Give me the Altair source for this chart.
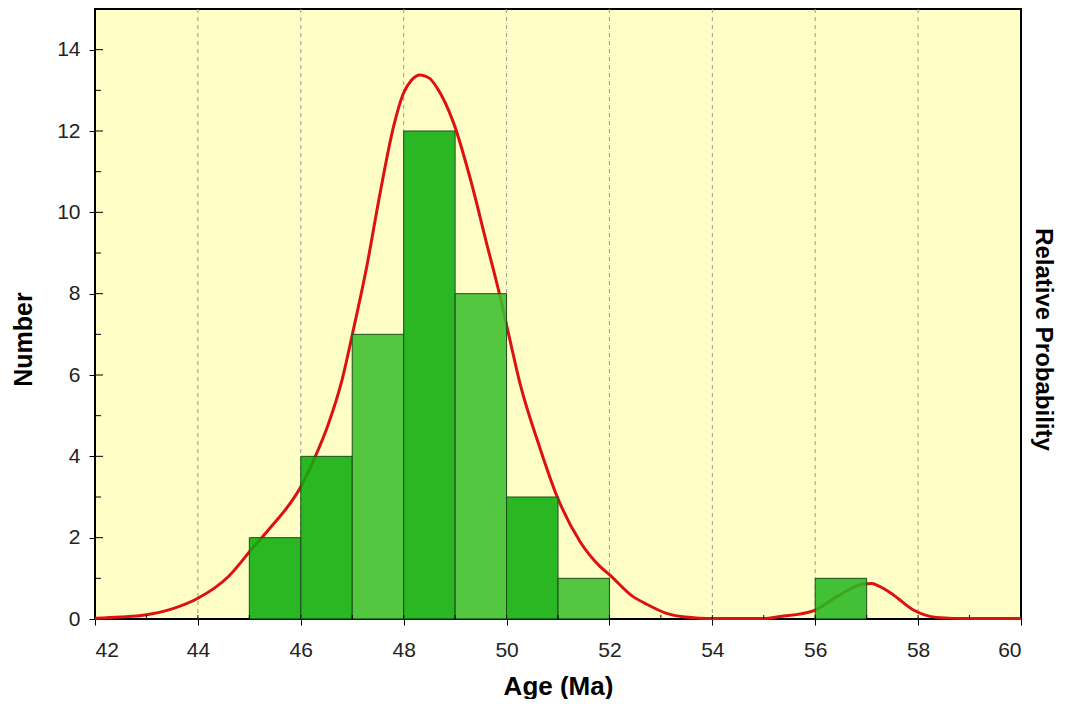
import altair as alt
import pandas as pd

# ---- data ----
bin_start = [45, 46, 47, 48, 49, 50, 51, 56]
bin_end = [46, 47, 48, 49, 50, 51, 52, 57]
counts = [2, 4, 7, 12, 8, 3, 1, 1]
bar_colors = ["#0EAC0E", "#0EAC0E", "#3ABF2C", "#0EAC0E", "#3ABF2C", "#0EAC0E", "#3ABF2C", "#28B822"]

curve_age = [42.0, 42.5, 42.97, 43.5, 44.0, 44.59, 45.06, 45.37, 46.0, 46.28, 46.54, 46.80,
             47.02, 47.28, 47.54, 47.80, 47.99, 48.15, 48.32, 48.5, 48.64, 48.97, 49.29,
             49.61, 49.87, 50.05, 50.26, 50.65, 50.97, 51.43, 51.81, 52.01, 52.46, 52.7,
             53.11, 53.4, 53.76, 54.0, 55.0, 55.32, 55.96, 56.42, 56.7, 56.94, 57.1, 57.25,
             57.52, 57.91, 58.36, 59.0, 60.0]
curve_val = [0.02, 0.05, 0.10, 0.25, 0.51, 1.04, 1.74, 2.19, 3.25, 3.99, 4.81, 5.87,
             7.10, 8.65, 10.46, 12.09, 12.91, 13.25, 13.38, 13.3, 13.08, 12.2, 10.85,
             9.25, 7.95, 6.95, 5.8, 4.2, 3.05, 1.9, 1.3, 1.08, 0.55, 0.38,
             0.14, 0.06, 0.02, 0.01, 0.01, 0.06, 0.2, 0.55, 0.75, 0.86, 0.87, 0.8,
             0.59, 0.22, 0.04, 0.01, 0.01]

x_ticks = [42, 44, 46, 48, 50, 52, 54, 56, 58, 60]
x_inner_ticks = list(range(43, 60))
y_ticks = [0, 2, 4, 6, 8, 10, 12, 14]
y_major_inner = [2, 4, 6, 8, 10, 12, 14]
y_minor_inner = [1, 3, 5, 7, 9, 11, 13]
grid_x = [44, 46, 48, 50, 52, 54, 56, 58]

W, H = 926, 610
FONT = "Liberation Sans"

bars_df = pd.DataFrame({"x": bin_start, "x1": bin_end, "n": counts, "c": bar_colors})
curve_df = pd.DataFrame({"x": curve_age, "p": curve_val})
grid_df = pd.DataFrame({"x": grid_x})
xin_df = pd.DataFrame({"x": x_inner_ticks})
ymaj_df = pd.DataFrame({"y": y_major_inner})
ymin_df = pd.DataFrame({"y": y_minor_inner})

xscale = alt.Scale(domain=[42, 60], nice=False, zero=False)
yscale = alt.Scale(domain=[0, 15], nice=False, zero=False)

xaxis = alt.Axis(values=x_ticks, format="d", title="Age (Ma)", domain=False, grid=False,
                 tickSize=6, tickColor="#000000", tickWidth=1, labelPadding=14,
                 labelFontSize=21, labelFont=FONT, labelColor="#222222",
                 titleFont=FONT, titleFontSize=26, titleFontWeight="bold", titleColor="#000000",
                 titleY=75, titleBaseline="alphabetic")

yaxis = alt.Axis(values=y_ticks, format="d", title="Number", domain=False, grid=False,
                 tickSize=6, tickColor="#000000", tickWidth=1, labelPadding=9,
                 labelFontSize=21, labelFont=FONT, labelColor="#222222",
                 titleFont=FONT, titleFontSize=25, titleFontWeight="bold", titleColor="#000000",
                 titleAngle=-90, titleX=-72, titleY=330, titleAlign="center", titleBaseline="middle")

raxis = alt.Axis(orient="right", title="Relative Probability", labels=False, ticks=False,
                 domain=False, grid=False,
                 titleFont=FONT, titleFontSize=24, titleFontWeight="bold", titleColor="#000000",
                 titleAngle=90, titleX=21, titleY=330, titleAlign="center", titleBaseline="middle")

grid = alt.Chart(grid_df).mark_rule(color="#9a9a90", strokeDash=[4, 4], strokeWidth=1).encode(
    x=alt.X("x:Q", scale=xscale, axis=xaxis)
)

curve = alt.Chart(curve_df).mark_line(color="#DC1212", strokeWidth=3, interpolate="monotone").encode(
    x=alt.X("x:Q", scale=xscale, axis=xaxis),
    y=alt.Y("p:Q", scale=yscale, axis=raxis),
)

bars = alt.Chart(bars_df).mark_rect(stroke="#1E4E1E", strokeWidth=1, fillOpacity=0.88).encode(
    x=alt.X("x:Q", scale=xscale, axis=xaxis),
    x2="x1:Q",
    y=alt.Y("n:Q", scale=yscale, axis=yaxis),
    y2=alt.datum(0),
    fill=alt.Color("c:N", scale=None),
)

xin = alt.Chart(xin_df).mark_rule(color="#000000", strokeWidth=1).encode(
    x=alt.X("x:Q", scale=xscale, axis=xaxis),
    y=alt.value(H),
    y2=alt.value(H - 4),
)

ymaj = alt.Chart(ymaj_df).mark_rule(color="#000000", strokeWidth=1).encode(
    y=alt.Y("y:Q", scale=yscale, axis=None),
    x=alt.value(0),
    x2=alt.value(8),
)

ymin = alt.Chart(ymin_df).mark_rule(color="#000000", strokeWidth=1).encode(
    y=alt.Y("y:Q", scale=yscale, axis=None),
    x=alt.value(0),
    x2=alt.value(6),
)

chart = alt.layer(grid, curve, bars, xin, ymaj, ymin).resolve_scale(y="independent").properties(
    width=W, height=H,
    autosize=alt.AutoSizeParams(type="none"),
    padding={"left": 87, "top": 1, "right": 36, "bottom": 80},
    background="#FFFFFF",
).configure_view(fill="#FFFEC6", stroke="#000000", strokeWidth=2)

chart.save("out.html", embed_options={"renderer": "svg", "actions": False})
